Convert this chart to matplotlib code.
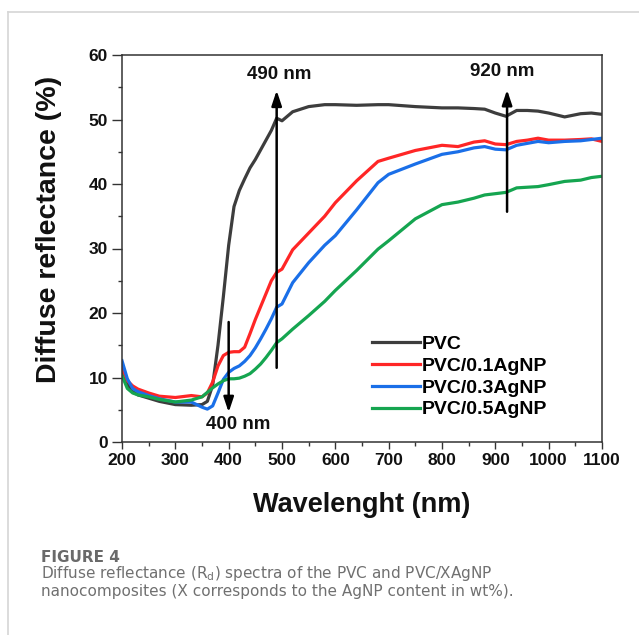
import matplotlib
matplotlib.use("Agg")
import matplotlib.pyplot as plt
from matplotlib import font_manager
from matplotlib.lines import Line2D
from matplotlib.ticker import MultipleLocator

INK = "#111111"
CAPTION = "#707070"
FRAME = "#d6d6d6"

plt.rcParams.update(
    {
        "font.family": ["Liberation Sans", "DejaVu Sans"],
        "font.weight": "bold",
        "mathtext.fontset": "dejavusans",
    }
)

installed = {f.name for f in font_manager.fontManager.ttflist}
TICK_FONT = "Liberation Sans Narrow" if "Liberation Sans Narrow" in installed else "Liberation Sans"
TICK_SIZE = 14 if TICK_FONT == "Liberation Sans Narrow" else 12.5

wavelength = [200, 210, 220, 230, 250, 270, 300, 330, 350, 360, 370, 380, 390, 400,
              410, 420, 430, 440, 450, 460, 470, 480, 490, 500, 520, 550, 580, 600,
              640, 680, 700, 750, 800, 830, 860, 880, 900, 920, 940, 960, 980, 1000,
              1030, 1060, 1080, 1100]

pvc = [11.3, 9.0, 7.8, 7.3, 6.8, 6.3, 5.8, 5.7, 5.8, 6.3, 8.8, 15.0, 22.5, 30.5,
       36.5, 39.0, 40.8, 42.5, 43.8, 45.3, 46.8, 48.3, 50.2, 49.8, 51.2, 52.0, 52.3, 52.3,
       52.2, 52.3, 52.3, 52.0, 51.8, 51.8, 51.7, 51.6, 51.0, 50.5, 51.4, 51.4, 51.3, 51.0,
       50.4, 50.9, 51.0, 50.8]
pvc_01 = [11.5, 9.5, 8.7, 8.2, 7.6, 7.1, 6.9, 7.2, 7.0, 7.6, 9.3, 11.8, 13.4, 13.9,
          14.0, 14.0, 14.7, 16.8, 19.0, 21.0, 23.0, 25.0, 26.3, 26.8, 29.8, 32.4, 35.0, 37.1,
          40.5, 43.5, 44.0, 45.2, 46.0, 45.8, 46.5, 46.7, 46.2, 46.1, 46.6, 46.8, 47.1, 46.8,
          46.8, 46.9, 47.0, 46.6]
pvc_03 = [12.6, 9.8, 8.3, 7.8, 7.2, 6.7, 6.2, 6.2, 5.4, 5.1, 5.6, 7.6, 9.7, 10.8,
          11.4, 11.8, 12.5, 13.4, 14.6, 16.0, 17.5, 19.1, 20.9, 21.4, 24.7, 27.8, 30.5, 32.0,
          36.0, 40.2, 41.5, 43.1, 44.6, 45.0, 45.6, 45.8, 45.4, 45.3, 46.0, 46.3, 46.6, 46.4,
          46.6, 46.7, 46.9, 47.1]
pvc_05 = [10.3, 8.3, 7.6, 7.3, 7.0, 6.6, 6.2, 6.5, 7.0, 7.7, 8.4, 9.0, 9.5, 9.8,
          9.8, 9.9, 10.2, 10.6, 11.3, 12.1, 13.1, 14.2, 15.4, 16.0, 17.5, 19.6, 21.8, 23.5,
          26.6, 29.9, 31.2, 34.6, 36.8, 37.2, 37.8, 38.3, 38.5, 38.7, 39.4, 39.5, 39.6, 39.9,
          40.4, 40.6, 41.0, 41.2]

labels = ["PVC", "PVC/0.1AgNP", "PVC/0.3AgNP", "PVC/0.5AgNP"]
colors = ["#3d3d3d", "#ff2626", "#1a6fe8", "#15a550"]

# (label, x, y tail, y head, text x, text y)
markers = [
    ("490 nm", 490, 11.5, 54.5, 495, 57.0),
    ("400 nm", 400, 18.6, 4.6, 418, 2.7),
    ("920 nm", 922, 35.7, 54.6, 912, 57.4),
]

fig = plt.figure(figsize=(6.39, 6.35), dpi=100)
fig.patch.set_facecolor("white")

# thin page frame
fig.add_artist(Line2D([8 / 639, 1.0], [1 - 12 / 635] * 2, color=FRAME, lw=1.2, transform=fig.transFigure))
fig.add_artist(Line2D([8 / 639] * 2, [0.0, 1 - 12 / 635], color=FRAME, lw=1.2, transform=fig.transFigure))

ax = fig.add_axes([122 / 639, 1 - 442 / 635, 480 / 639, 387 / 635])
for series, label, color in zip([pvc, pvc_01, pvc_03, pvc_05], labels, colors):
    ax.plot(wavelength, series, color=color, lw=2.3, label=label)

for text, x, y0, y1, tx, ty in markers:
    ax.annotate(
        "",
        xy=(x, y1),
        xytext=(x, y0),
        arrowprops=dict(arrowstyle="-|>,head_length=0.9,head_width=0.3", color="black", lw=1.8, shrinkA=0, shrinkB=0),
    )
    ax.text(tx, ty, text, ha="center", va="center", fontsize=13.5, fontweight="bold", color=INK)

ax.set_xlim(200, 1100)
ax.set_ylim(0, 60)
ax.xaxis.set_major_locator(MultipleLocator(100))
ax.xaxis.set_minor_locator(MultipleLocator(50))
ax.yaxis.set_major_locator(MultipleLocator(10))
ax.yaxis.set_minor_locator(MultipleLocator(5))
ax.tick_params(which="both", direction="out", top=False, right=False, colors="#333333", labelcolor=INK)
ax.tick_params(which="major", length=5, width=1.0, pad=3)
ax.tick_params(which="minor", length=3, width=1.0)
ax.tick_params(axis="y", which="major", length=7)
for lab in ax.get_xticklabels() + ax.get_yticklabels():
    lab.set_fontweight("bold")
    lab.set_family(TICK_FONT)
    lab.set_fontsize(TICK_SIZE)
for spine in ax.spines.values():
    spine.set_color("#333333")
    spine.set_linewidth(1.1)

ax.set_xlabel("Wavelenght (nm)", fontsize=19.5, fontweight="bold", color=INK)
ax.set_ylabel("Diffuse reflectance (%)", fontsize=20.5, fontweight="bold", color=INK)
ax.xaxis.set_label_coords(0.5, -0.13)
ax.yaxis.set_label_coords(-0.125, 0.55)

ax.legend(
    loc="upper left",
    bbox_to_anchor=(0.52, 0.276),
    frameon=False,
    handlelength=2.5,
    handletextpad=0.1,
    labelspacing=0.22,
    borderpad=0,
    borderaxespad=0,
    prop={"weight": "bold", "size": 14},
)

fig.text(41 / 639, 1 - 561.5 / 635, "FIGURE 4", fontsize=11, color="#6a6a6a", family="DejaVu Sans",
         fontweight="bold", va="baseline", ha="left")
fig.text(41 / 639, 1 - 577.7 / 635,
         r"Diffuse reflectance (R$_{\mathregular{d}}$) spectra of the PVC and PVC/XAgNP",
         fontsize=11, color=CAPTION, family="DejaVu Sans", fontweight="normal", va="baseline", ha="left")
fig.text(41 / 639, 1 - 595.7 / 635,
         "nanocomposites (X corresponds to the AgNP content in wt%).",
         fontsize=11, color=CAPTION, family="DejaVu Sans", fontweight="normal", va="baseline", ha="left")

fig.savefig("out.png", dpi=100, facecolor="white")
